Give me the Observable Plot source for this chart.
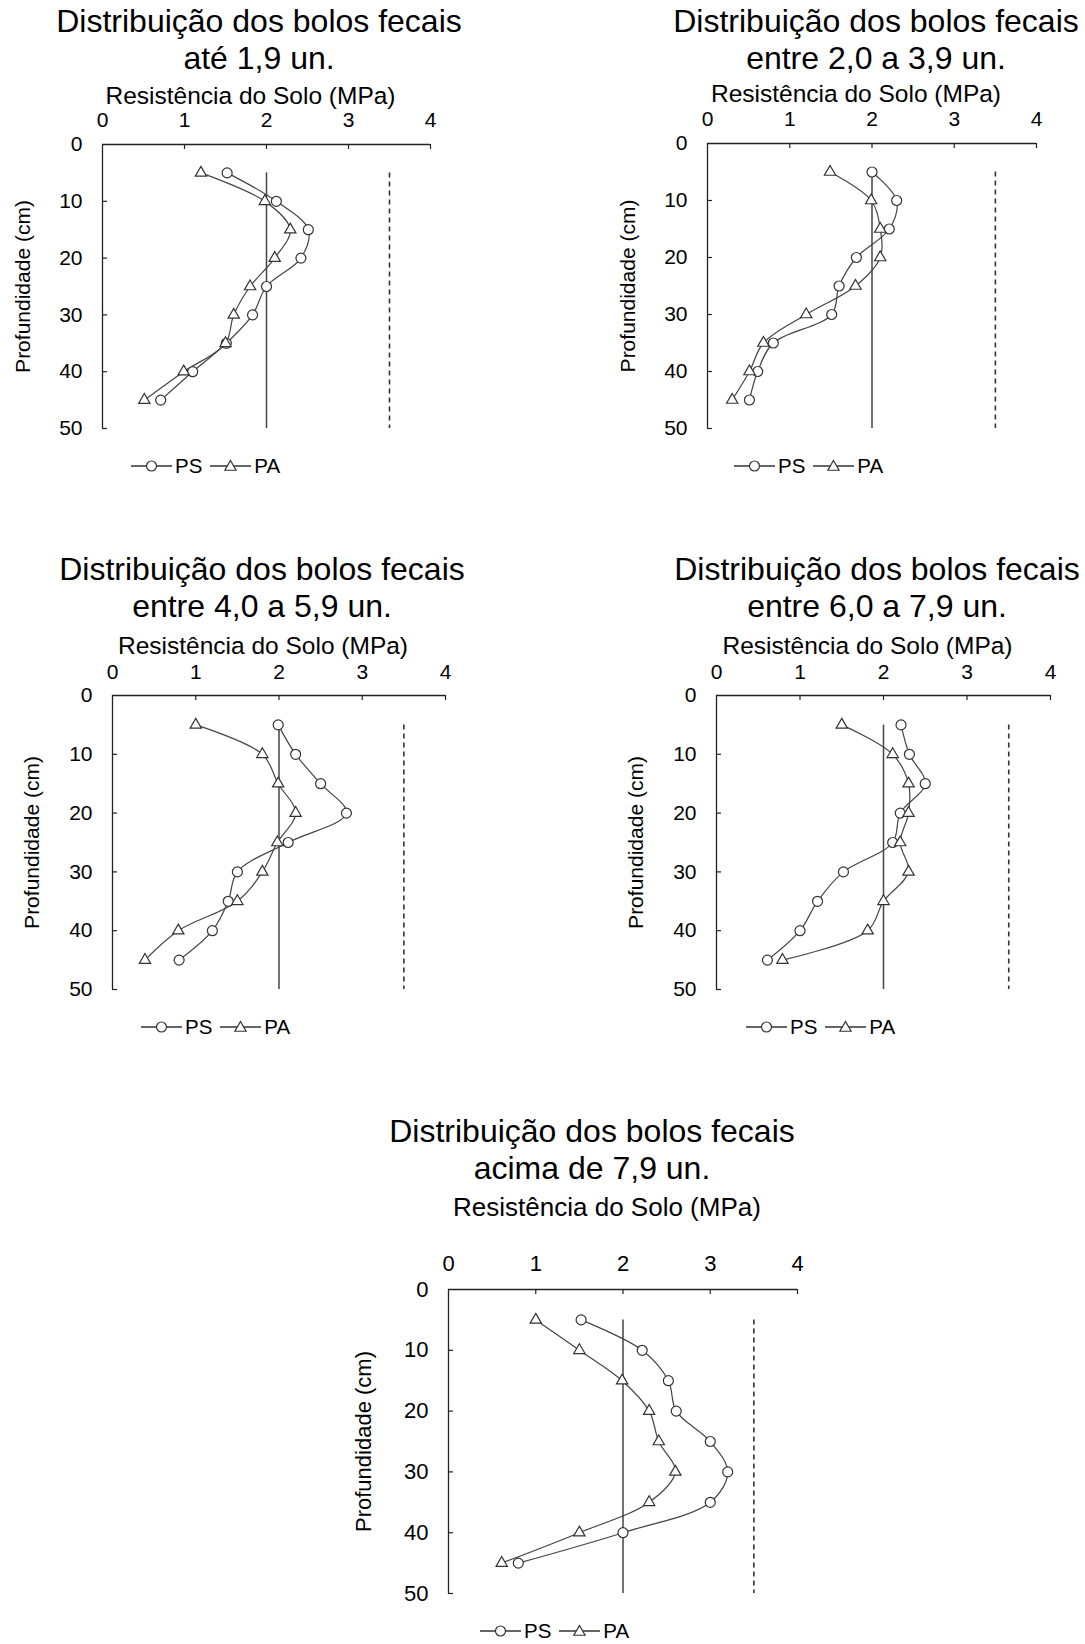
<!DOCTYPE html>
<html>
<head>
<meta charset="utf-8">
<script src="https://cdn.jsdelivr.net/npm/d3@7"></script>
<script src="https://cdn.jsdelivr.net/npm/@observablehq/plot@0.6"></script>
<style>
  body { margin: 0; background: #fff; }
  #wrap { position: relative; width: 1085px; height: 1644px; background: #fff; font-family: "Liberation Sans", Arial, sans-serif; color: #000; }
  .title { position: absolute; width: 560px; text-align: center; font-size: 32px; line-height: 37px; white-space: nowrap; }
  .plot { position: absolute; }
  .legend { position: absolute; display: flex; align-items: center; font-size: 20.5px; white-space: nowrap; }
  .legend span { margin: 0 8px 0 3px; }
</style>
</head>
<body>
<div id="wrap"></div>
<script>
// ---------------- data ----------------
const depths = [5, 10, 15, 20, 25, 30, 35, 40, 45];
const xTicks = [0, 1, 2, 3, 4];
const yTicks = [0, 10, 20, 30, 40, 50];
const xLabel = "Resistência do Solo (MPa)";
const yLabel = "Profundidade (cm)";
const titleLine1 = "Distribuição dos bolos fecais";
const subtitles = ["até 1,9 un.", "entre 2,0 a 3,9 un.", "entre 4,0 a 5,9 un.", "entre 6,0 a 7,9 un.", "acima de 7,9 un."];
const seriesNames = ["PS", "PA"];

const ps1 = [1.52, 2.12, 2.51, 2.42, 2.00, 1.83, 1.51, 1.10, 0.71];
const pa1 = [1.20, 1.98, 2.29, 2.10, 1.80, 1.60, 1.50, 0.99, 0.51];
const ps2 = [2.00, 2.30, 2.21, 1.81, 1.60, 1.51, 0.80, 0.61, 0.51];
const pa2 = [1.49, 1.99, 2.10, 2.10, 1.80, 1.20, 0.68, 0.51, 0.30];
const ps3 = [1.99, 2.20, 2.50, 2.81, 2.11, 1.50, 1.39, 1.20, 0.80];
const pa3 = [1.00, 1.80, 1.99, 2.20, 1.98, 1.80, 1.50, 0.79, 0.39];
const ps4 = [2.21, 2.31, 2.50, 2.20, 2.11, 1.52, 1.21, 1.00, 0.61];
const pa4 = [1.50, 2.11, 2.30, 2.30, 2.20, 2.30, 2.00, 1.81, 0.79];
const ps5 = [1.52, 2.22, 2.52, 2.61, 3.00, 3.20, 3.00, 2.00, 0.80];
const pa5 = [1.00, 1.50, 1.99, 2.30, 2.41, 2.60, 2.30, 1.50, 0.61];

// reference lines: solid at 2 MPa, dashed at 3.5 MPa, from 5 to 50 cm
const refSolid = [2];
const refDashed = [3.5];
const refDepth = [5, 50];

const psSeries = [ps1, ps2, ps3, ps4, ps5];
const paSeries = [pa1, pa2, pa3, pa4, pa5];

// ---------------- layout ----------------
const layout = [
  {fx: 102, fy: 144, fw: 328, fh: 284, tcx: 259, tb: 32, tickFs: 21, tp: 18, xtOff: 48, xtFs: 24.5, ytOff: 79, ytFs: 21, lg: 29},
  {fx: 707, fy: 143, fw: 329, fh: 285, tcx: 876, tb: 32, tickFs: 21, tp: 18, xtOff: 49, xtFs: 24.5, ytOff: 79, ytFs: 21, lg: 27},
  {fx: 112, fy: 695, fw: 333, fh: 294, tcx: 262, tb: 580, tickFs: 21, tp: 17, xtOff: 49, xtFs: 24.5, ytOff: 80, ytFs: 21, lg: 29},
  {fx: 716, fy: 695, fw: 334, fh: 294, tcx: 877, tb: 580, tickFs: 21, tp: 17, xtOff: 49, xtFs: 24.5, ytOff: 80, ytFs: 21, lg: 30},
  {fx: 448, fy: 1289, fw: 349, fh: 304, tcx: 592, tb: 1142, tickFs: 22, tp: 19, xtOff: 82, xtFs: 26, ytOff: 85, ytFs: 22, lg: 32}
];

const wrap = d3.select("#wrap");
const ink = "#333";

function legendSymbol(sym) {
  const s = d3.create("svg").attr("width", 41).attr("height", 14);
  s.append("line").attr("x1", 0).attr("x2", 41).attr("y1", 7).attr("y2", 7).attr("stroke", ink).attr("stroke-width", 1.3);
  if (sym === "circle") {
    s.append("circle").attr("cx", 20.5).attr("cy", 7).attr("r", 5).attr("fill", "#fff").attr("stroke", ink).attr("stroke-width", 1.2);
  } else {
    s.append("path").attr("d", d3.symbol(d3.symbolTriangle, 55)()).attr("transform", "translate(20.5,8)").attr("fill", "#fff").attr("stroke", ink).attr("stroke-width", 1.2);
  }
  return s.node();
}

layout.forEach((L, i) => {
  const data = depths.map((d, k) => ({depth: d, ps: psSeries[i][k], pa: paSeries[i][k]}));
  const ml = 100, mt = i === 4 ? 110 : 70, mr = 20, mb = 10;

  const chart = Plot.plot({
    width: ml + L.fw + mr,
    height: mt + L.fh + mb,
    marginLeft: ml, marginTop: mt, marginRight: mr, marginBottom: mb,
    style: {fontFamily: '"Liberation Sans", Arial, sans-serif', color: "#000", background: "transparent", overflow: "visible"},
    x: {domain: [0, 4]},
    y: {domain: [0, 50], reverse: true},
    marks: [
      Plot.axisX(xTicks, {anchor: "top", tickSize: 0, tickPadding: L.tp, fontSize: L.tickFs, label: null}),
      Plot.axisY(yTicks, {anchor: "left", tickSize: 0, tickPadding: 20, fontSize: L.tickFs, label: null}),
      Plot.ruleY([0], {stroke: "#222", strokeWidth: 1.3}),
      Plot.ruleX([0], {stroke: "#222", strokeWidth: 1.3}),
      Plot.ruleX(xTicks.filter(d => d > 0), {stroke: "#222", strokeWidth: 1.2, insetBottom: L.fh - 5}),
      Plot.ruleY(yTicks.filter(d => d > 0), {stroke: "#222", strokeWidth: 1.2, insetRight: L.fw - 5}),
      Plot.ruleX(refSolid, {y1: refDepth[0], y2: refDepth[1], stroke: "#444", strokeWidth: 1.5}),
      Plot.ruleX(refDashed, {y1: refDepth[0], y2: refDepth[1], stroke: "#333", strokeWidth: 1.6, strokeDasharray: "5,4"}),
      Plot.line(data, {x: "ps", y: "depth", curve: "catmull-rom", stroke: "#444", strokeWidth: 1.2}),
      Plot.line(data, {x: "pa", y: "depth", curve: "catmull-rom", stroke: "#444", strokeWidth: 1.2}),
      Plot.dot(data, {x: "ps", y: "depth", r: 5, symbol: "circle", fill: "#fff", stroke: ink, strokeWidth: 1.2}),
      Plot.dot(data, {x: "pa", y: "depth", r: 4.2, symbol: "triangle", fill: "#fff", stroke: ink, strokeWidth: 1.2}),
      Plot.text([xLabel], {text: d => d, frameAnchor: "top", lineAnchor: "middle", dx: -16, dy: -L.xtOff, fontSize: L.xtFs, fill: "#000"}),
      Plot.text([yLabel], {text: d => d, frameAnchor: "left", lineAnchor: "middle", dx: -L.ytOff, rotate: -90, textAnchor: "middle", fontSize: L.ytFs, fill: "#000"})
    ]
  });

  wrap.append("div").attr("class", "plot")
    .style("left", (L.fx - ml) + "px").style("top", (L.fy - mt) + "px")
    .node().appendChild(chart);

  // title (two lines)
  wrap.append("div").attr("class", "title")
    .style("left", (L.tcx - 280) + "px").style("top", (L.tb - 29) + "px")
    .html(titleLine1 + "<br>" + subtitles[i]);

  // legend
  const lg = wrap.append("div").attr("class", "legend")
    .style("left", (L.fx + L.lg) + "px").style("top", (L.fy + L.fh + 26) + "px");
  lg.node().appendChild(legendSymbol("circle"));
  lg.append("span").text(seriesNames[0]);
  lg.node().appendChild(legendSymbol("triangle"));
  lg.append("span").text(seriesNames[1]);
});
</script>
</body>
</html>
